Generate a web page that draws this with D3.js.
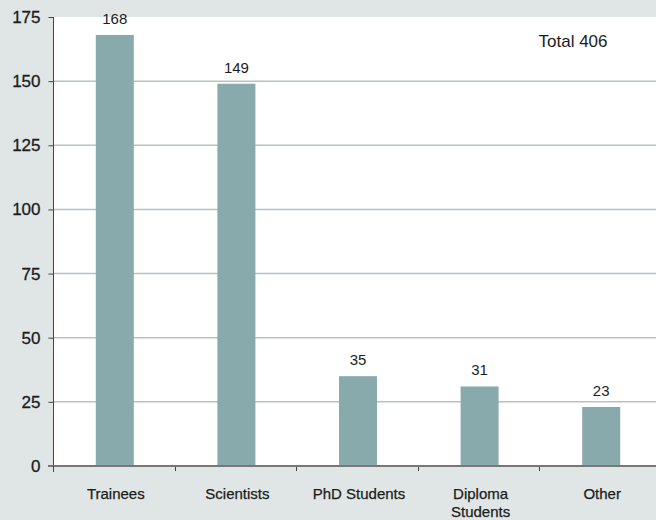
<!DOCTYPE html>
<html>
<head>
<meta charset="utf-8">
<script src="https://cdn.jsdelivr.net/npm/d3@7"></script>
<style>
  html, body { margin: 0; padding: 0; background: #dfe6e5; }
  svg { display: block; font-family: "Liberation Sans", Arial, sans-serif; }
</style>
</head>
<body>
<svg id="chart" width="656" height="520"></svg>
<script>
// Staff by group
const categories = ["Trainees", "Scientists", "PhD Students", "Diploma Students", "Other"];
const categoryLines = [["Trainees"], ["Scientists"], ["PhD Students"], ["Diploma", "Students"], ["Other"]];
const counts = [168, 149, 35, 31, 23];
const yTicks = [0, 25, 50, 75, 100, 125, 150, 175];
const totalLabel = "Total 406";

const svg = d3.select("#chart");
const W = 656, H = 520;
const m = { left: 53, top: 17, right: -5, bottom: 54 };
const x0 = m.left, x1 = W - m.right;
const yBottom = H - m.bottom;
const ink = "#1c1c1c";

const x = d3.scaleBand().domain(categories).range([x0, x1]).paddingInner(0).paddingOuter(0);
const y = d3.scaleLinear().domain([0, 175]).range([yBottom, m.top]);
const barW = 38;

// White plot area
svg.append("rect")
  .attr("x", x0).attr("y", m.top)
  .attr("width", x1 - x0).attr("height", yBottom - m.top)
  .attr("fill", "#ffffff");

// Horizontal gridlines
svg.append("g")
  .selectAll("line")
  .data(yTicks.filter(d => d > 0 && d < 175))
  .join("line")
  .attr("x1", x0).attr("x2", x1)
  .attr("y1", d => y(d)).attr("y2", d => y(d))
  .attr("stroke", "#b7c3c1").attr("stroke-width", 1.5);

// Bars
svg.append("g")
  .selectAll("rect")
  .data(categories)
  .join("rect")
  .attr("x", (d) => x(d) + x.bandwidth() / 2 - barW / 2 + 1)
  .attr("y", (d, i) => y(counts[i]))
  .attr("width", barW)
  .attr("height", (d, i) => yBottom - y(counts[i]))
  .attr("fill", "#88aaad");

// Value labels
svg.append("g")
  .selectAll("text")
  .data(categories)
  .join("text")
  .attr("x", d => x(d) + x.bandwidth() / 2 + 1)
  .attr("y", (d, i) => y(counts[i]) - 11)
  .attr("text-anchor", "middle")
  .attr("font-size", 15)
  .attr("fill", ink)
  .text((d, i) => counts[i]);

// Y axis
const yAxis = d3.axisLeft(y).tickValues(yTicks).tickSize(5).tickPadding(8);
const gy = svg.append("g").attr("transform", `translate(${x0 + 0.5},0)`).call(yAxis);
gy.select(".domain").attr("stroke", "#444").attr("d", `M0,${m.top}V${yBottom}`);
gy.selectAll(".tick line").attr("stroke", "#444");
gy.selectAll(".tick text")
  .attr("font-size", 17)
  .attr("font-family", "Liberation Sans, Arial, sans-serif")
  .attr("fill", ink)
  .attr("stroke", ink).attr("stroke-width", 0.3);

// X axis baseline and ticks at category boundaries
const boundaries = categories.map(d => x(d)).concat([x1]);
svg.append("g")
  .selectAll("line")
  .data(boundaries.slice(1, -1))
  .join("line")
  .attr("x1", d => Math.round(d) + 0.5).attr("x2", d => Math.round(d) + 0.5)
  .attr("y1", yBottom).attr("y2", yBottom + 5)
  .attr("stroke", "#444");
svg.append("line")
  .attr("x1", x0 - 5).attr("x2", x1)
  .attr("y1", yBottom).attr("y2", yBottom)
  .attr("stroke", "#777").attr("stroke-width", 2);
svg.append("line")
  .attr("x1", x0 + 0.5).attr("x2", x0 + 0.5)
  .attr("y1", yBottom).attr("y2", yBottom + 6)
  .attr("stroke", "#444");

// Category labels
const xl = svg.append("g")
  .selectAll("text")
  .data(categories)
  .join("text")
  .attr("x", d => x(d) + x.bandwidth() / 2 + 2)
  .attr("y", yBottom + 33)
  .attr("text-anchor", "middle")
  .attr("font-size", 15)
  .attr("fill", ink)
  .attr("stroke", ink).attr("stroke-width", 0.25);
xl.each(function(d, i) {
  const t = d3.select(this);
  categoryLines[i].forEach((line, j) => {
    t.append("tspan")
      .attr("x", x(d) + x.bandwidth() / 2 + 2)
      .attr("dy", j === 0 ? 0 : 18)
      .text(line);
  });
});

// Total annotation
svg.append("text")
  .attr("x", 573).attr("y", 47)
  .attr("text-anchor", "middle")
  .attr("font-size", 17)
  .attr("fill", ink)
  .text(totalLabel);
</script>
</body>
</html>
